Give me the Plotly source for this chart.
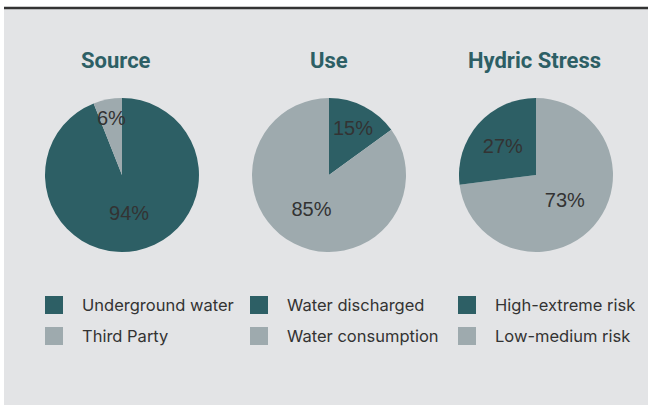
import math
import plotly.graph_objects as go

# ---- data ----
titles = ["Source", "Use", "Hydric Stress"]
source_labels = ["Underground water", "Third Party"]
source_values = [94, 6]
use_labels = ["Water discharged", "Water consumption"]
use_values = [15, 85]
hydric_labels = ["Low-medium risk", "High-extreme risk"]
hydric_values = [73, 27]
legend_order_hydric = ["High-extreme risk", "Low-medium risk"]

DARK = "#2d5f65"
GRAY = "#9eaaae"
BG = "#e3e4e6"

W, H = 648, 407

def px_x(x):
    return x / W

def px_y(y):
    return 1 - y / H

domains = [(45, 199), (252, 406), (459, 613)]
ytop, ybot = 98, 252

fig = go.Figure()

pies = [
    (source_labels, source_values, [DARK, GRAY]),
    (use_labels, use_values, [DARK, GRAY]),
    (hydric_labels, hydric_values, [GRAY, DARK]),
]

annotations = []
LABEL_FONT = dict(family="Liberation Sans", size=20, color="#333333")

for (labels, values, colors), (x0, x1) in zip(pies, domains):
    total = sum(values)
    templates = []
    cum = 0
    cx, cy, r = (x0 + x1) / 2, (ytop + ybot) / 2, (x1 - x0) / 2
    for v in values:
        if v / total < 0.1:
            templates.append("")
            # small slice: label placed on its bisector, full size
            ang = math.radians((cum + v / 2) / total * 360)
            lx = cx + 0.76 * r * math.sin(ang)
            ly = cy - 0.76 * r * math.cos(ang)
            annotations.append(dict(text=f"{round(v / total * 100)}%", x=px_x(lx), y=px_y(ly),
                                    xref="paper", yref="paper", showarrow=False,
                                    xanchor="center", yanchor="middle", font=LABEL_FONT))
        else:
            templates.append("%{percent:.0%}")
        cum += v
    fig.add_trace(go.Pie(
        labels=labels, values=values,
        marker=dict(colors=colors, line=dict(width=0)),
        sort=False, direction="clockwise", rotation=0,
        texttemplate=templates, textposition="inside",
        insidetextorientation="horizontal",
        textfont=LABEL_FONT,
        domain=dict(x=[px_x(x0), px_x(x1)], y=[px_y(ybot), px_y(ytop)]),
        showlegend=False, hoverinfo="label+percent",
    ))

# background panel and top rule
shapes = [
    dict(type="rect", xref="paper", yref="paper", x0=px_x(4), x1=1, y0=px_y(405), y1=px_y(9),
         fillcolor=BG, line=dict(width=0), layer="below"),
    dict(type="line", xref="paper", yref="paper", x0=px_x(4), x1=1, y0=px_y(8), y1=px_y(8),
         line=dict(color="#333333", width=2.5)),
]

title_x = [116, 329, 534]
for t, tx in zip(titles, title_x):
    annotations.append(dict(text=f"<b>{t}</b>", x=px_x(tx), y=px_y(60), xref="paper", yref="paper",
                            showarrow=False, xanchor="center", yanchor="middle",
                            font=dict(family="Roboto", size=22, color=DARK)))

# legend (manual)
legend_cols = [
    (45, [(source_labels[0], DARK), (source_labels[1], GRAY)]),
    (250, [(use_labels[0], DARK), (use_labels[1], GRAY)]),
    (458, [(legend_order_hydric[0], DARK), (legend_order_hydric[1], GRAY)]),
]
row_y = [305, 336]
for lx, items in legend_cols:
    for (lab, col), ry in zip(items, row_y):
        shapes.append(dict(type="rect", xref="paper", yref="paper",
                           x0=px_x(lx), x1=px_x(lx + 18), y0=px_y(ry + 9), y1=px_y(ry - 9),
                           fillcolor=col, line=dict(width=0)))
        annotations.append(dict(text=lab, x=px_x(lx + 35), y=px_y(ry), xref="paper", yref="paper",
                                showarrow=False, xanchor="left", yanchor="middle",
                                font=dict(family="Inter", size=16.5, color="#333333")))

fig.update_layout(
    width=W, height=H, margin=dict(l=0, r=0, t=0, b=0),
    paper_bgcolor="white", plot_bgcolor="white",
    shapes=shapes, annotations=annotations,
)

fig.write_html("out.html", config={"displayModeBar": False},
               post_script="document.body.style.margin='0';document.body.style.overflow='hidden';")
